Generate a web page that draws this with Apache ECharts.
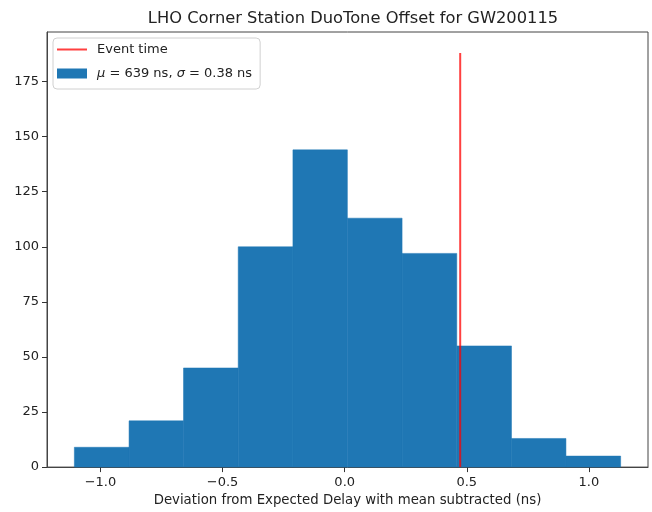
<!DOCTYPE html>
<html>
<head>
<meta charset="utf-8">
<script src="https://cdn.jsdelivr.net/npm/echarts@6/dist/echarts.min.js"></script>
<style>
  html, body { margin: 0; padding: 0; background: #fff; }
  #chart { width: 652px; height: 512px; }
</style>
</head>
<body>
<div id="chart"></div>
<script>
// histogram bin edges (ns, mean subtracted) and counts
const binEdges = [-1.107, -0.883, -0.660, -0.436, -0.212, 0.011, 0.235, 0.459, 0.683, 0.906, 1.130]
const counts = [9, 21, 45, 100, 144, 113, 97, 55, 13, 5]
const eventTime = 0.473
const eventLineTop = 188
const xTicks = [-1.0, -0.5, 0.0, 0.5, 1.0]
const yTicks = [0, 25, 50, 75, 100, 125, 150, 175]

const histName = 'hist'
const bins = counts.map((c, i) => [binEdges[i], binEdges[i + 1], c])

const chart = echarts.init(document.getElementById('chart'))
const font = 'DejaVu Sans'
const fmtMinus = v => String(v).replace('-', '\u2212')
// thin horizontal bar centred in a 30x10 box, used as the line legend icon
const lineIcon = 'path://M0,0H0.01V0.01H0Z M0,4H30V6H0Z M29.99,9.99H30V10H29.99Z'

const option = {
  animation: false,
  textStyle: { fontFamily: font },
  title: {
    text: 'LHO Corner Station DuoTone Offset for GW200115',
    left: 348,
    textAlign: 'center',
    top: 6,
    textStyle: { fontFamily: font, fontSize: 16.3, fontWeight: 'normal', color: '#222' }
  },
  legend: {
    orient: 'vertical',
    left: 53,
    top: 38,
    padding: [5, 8, 9, 4],
    itemGap: 11,
    itemWidth: 30,
    itemHeight: 10,
    borderColor: '#d0d0d0',
    borderWidth: 1,
    borderRadius: 4,
    backgroundColor: 'rgba(255,255,255,0.85)',
    textStyle: {
      fontFamily: font,
      fontSize: 13,
      color: '#222',
      padding: [0, 0, 0, 5],
      rich: {
        it: { fontStyle: 'italic', fontFamily: font, fontSize: 13, color: '#222' }
      }
    },
    data: [{ name: 'Event time', icon: lineIcon }, { name: histName, icon: 'rect' }],
    formatter: name => name === histName
      ? '{it|\u03bc} = 639 ns, {it|\u03c3} = 0.38 ns'
      : name
  },
  grid: {
    left: 47,
    right: 4,
    top: 32,
    bottom: 41,
    show: true,
    borderColor: '#444',
    borderWidth: 1,
    containLabel: false
  },
  xAxis: {
    type: 'value',
    min: -1.219,
    max: 1.242,
    name: 'Deviation from Expected Delay with mean subtracted (ns)',
    nameLocation: 'middle',
    nameGap: 26,
    nameTextStyle: { fontFamily: font, fontSize: 13.3, color: '#222' },
    axisLine: { show: true, onZero: false, lineStyle: { color: '#444' } },
    splitLine: { show: false },
    axisTick: { show: true, length: 5, lineStyle: { color: '#333' }, customValues: xTicks },
    axisLabel: {
      fontFamily: font,
      fontSize: 13,
      color: '#222',
      margin: 9,
      customValues: xTicks,
      formatter: v => fmtMinus(v.toFixed(1))
    }
  },
  yAxis: {
    type: 'value',
    min: 0,
    max: 197.5,
    axisLine: { show: true, onZero: false, lineStyle: { color: '#444' } },
    splitLine: { show: false },
    axisTick: { show: true, length: 5, lineStyle: { color: '#333' }, customValues: yTicks },
    axisLabel: {
      fontFamily: font,
      fontSize: 13,
      color: '#222',
      margin: 8,
      customValues: yTicks
    }
  },
  series: [
    {
      name: histName,
      type: 'custom',
      itemStyle: { color: '#1f77b4' },
      encode: { x: [0, 1], y: 2 },
      data: bins,
      renderItem: (params, api) => {
        const p0 = api.coord([api.value(0), api.value(2)])
        const p1 = api.coord([api.value(1), 0])
        return {
          type: 'rect',
          shape: { x: p0[0], y: p0[1], width: p1[0] - p0[0], height: p1[1] - p0[1] },
          style: { fill: '#1f77b4', stroke: '#1f77b4', lineWidth: 0.5 }
        }
      }
    },
    {
      name: 'Event time',
      type: 'line',
      symbol: 'none',
      z: 5,
      lineStyle: { color: 'rgba(255,0,0,0.75)', width: 2 },
      itemStyle: { color: 'rgba(255,0,0,0.75)' },
      data: [[eventTime, 0], [eventTime, eventLineTop]]
    }
  ]
}

chart.setOption(option)
</script>
</body>
</html>
